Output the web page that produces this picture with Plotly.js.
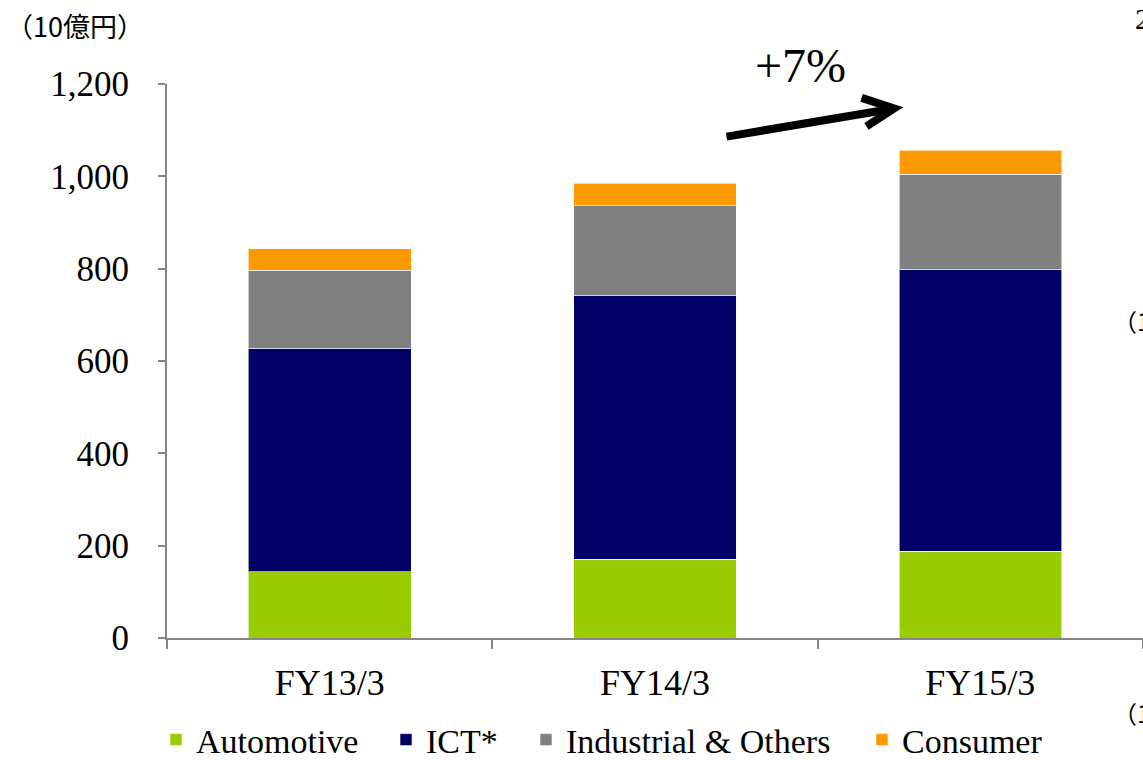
<!DOCTYPE html>
<html>
<head>
<meta charset="utf-8">
<script src="https://cdn.plot.ly/plotly-3.0.1.min.js"></script>
<style>html,body{margin:0;padding:0;background:#fff;}#chart{width:1143px;height:760px;}</style>
</head>
<body>
<div id="chart"></div>
<script>
const categories = ["FY13/3", "FY14/3", "FY15/3"];
const automotive = [143, 171, 188];
const ict = [485, 570, 611];
const industrial = [169, 195, 206];
const consumer = [46, 49, 52];
const seriesNames = ["Automotive", "ICT*", "Industrial & Others", "Consumer"];
const seriesColors = ["#99CC00", "#000066", "#808080", "#FF9900"];
const yTicks = [0, 200, 400, 600, 800, 1000, 1200];
const unitLabel = "（10億円）";
const growthLabel = "+7%";

const serif = "Liberation Serif, Times New Roman, serif";
const values = [automotive, ict, industrial, consumer];
const legendIds = ["legend", "legend2", "legend3", "legend4"];
const legendX = [156, 386, 526, 862];

const traces = values.map((v, i) => ({
  type: "bar",
  x: categories,
  y: v,
  name: seriesNames[i],
  legend: legendIds[i],
  marker: {color: seriesColors[i], line: {color: "rgba(255,255,255,0.6)", width: 1}},
  hoverinfo: "y+name"
}));

const layout = {
  width: 1143, height: 760,
  margin: {l: 167, r: 0, t: 84, b: 122},
  paper_bgcolor: "#fff", plot_bgcolor: "#fff",
  barmode: "stack",
  bargap: 0.5,
  showlegend: true,
  xaxis: {
    type: "category",
    showline: true, linecolor: "#868686", linewidth: 2,
    ticks: "outside", tickson: "boundaries", ticklen: 9, tickcolor: "#868686", tickwidth: 2,
    ticklabelstandoff: 12,
    tickfont: {family: serif, size: 36, color: "#000"},
    showgrid: false, zeroline: false
  },
  yaxis: {
    range: [0, 1200],
    tickvals: yTicks,
    tickformat: ",d",
    showline: true, linecolor: "#868686", linewidth: 2,
    ticks: "outside", ticklen: 7, tickcolor: "#868686", tickwidth: 2,
    ticklabelstandoff: 22,
    tickfont: {family: serif, size: 35, color: "#000"},
    showgrid: false, zeroline: false
  },
  annotations: [
    {text: unitLabel, xref: "paper", yref: "paper", x: -167/976 + 0.004, y: 1 + 59/554, xanchor: "left", yanchor: "middle",
     showarrow: false, font: {family: "Noto Sans CJK JP, sans-serif", size: 27, color: "#000"}},
    {text: growthLabel, xref: "paper", yref: "paper", x: (800-167)/976, y: (638-66)/554, xanchor: "center", yanchor: "middle",
     showarrow: false, font: {family: serif, size: 48, color: "#000"}},
    {text: "2", xref: "paper", yref: "paper", x: 1, xshift: -10, y: 1 + 66/554, xanchor: "left", yanchor: "middle",
     showarrow: false, font: {family: serif, size: 30, color: "#000"}},
    {text: "（1", xref: "paper", yref: "paper", x: 1, xshift: -32, y: (638-320)/554, xanchor: "left", yanchor: "middle",
     showarrow: false, font: {family: "Noto Sans CJK JP, sans-serif", size: 24, color: "#000"}},
    {text: "（1", xref: "paper", yref: "paper", x: 1, xshift: -32, y: (638-712)/554, xanchor: "left", yanchor: "middle",
     showarrow: false, font: {family: "Noto Sans CJK JP, sans-serif", size: 24, color: "#000"}}
  ],
  shapes: [
    {type: "line", xref: "x", yref: "y", x0: 1.22, y0: 1086, x1: 1.735, y1: 1147,
     line: {color: "#000", width: 8}},
    {type: "path", xref: "x", yref: "y",
     path: "M 1.635,1170 L 1.735,1147 L 1.65,1108",
     line: {color: "#000", width: 8}}
  ]
};

legendIds.forEach((id, i) => {
  layout[id] = {
    orientation: "h",
    xref: "container", yref: "container",
    x: legendX[i] / 1143, xanchor: "left",
    y: 20 / 760, yanchor: "middle",
    font: {family: serif, size: 34, color: "#000"},
    itemwidth: 30,
    bgcolor: "rgba(0,0,0,0)"
  };
});

Plotly.newPlot("chart", traces, layout, {displayModeBar: false, staticPlot: true});
</script>
</body>
</html>
